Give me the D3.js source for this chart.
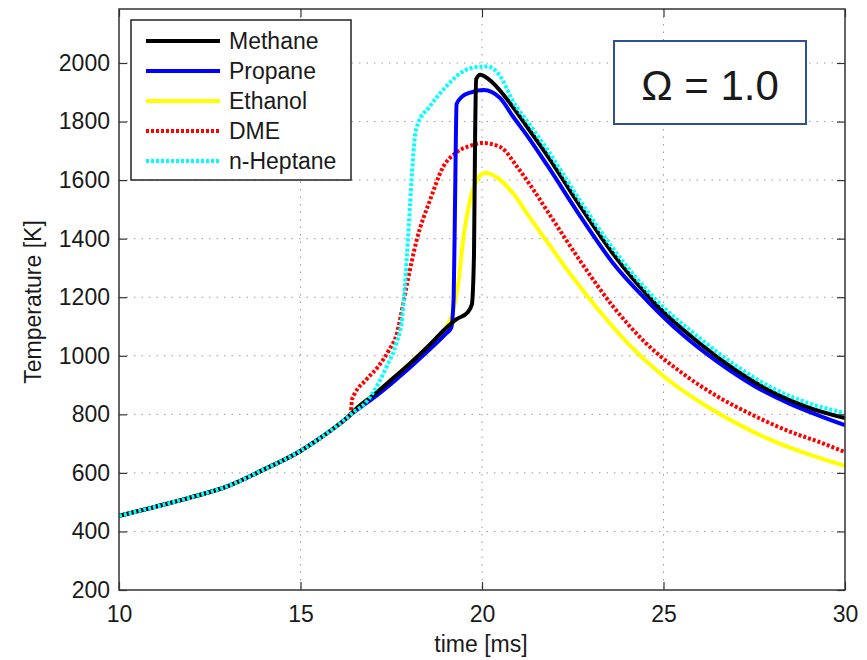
<!DOCTYPE html>
<html>
<head>
<meta charset="utf-8">
<script src="https://cdn.jsdelivr.net/npm/d3@7/dist/d3.min.js"></script>
<style>
  html, body { margin: 0; padding: 0; background: #fff; }
  svg { display: block; }
  text { font-family: "Liberation Sans", Arial, sans-serif; fill: #1a1a1a; }
</style>
</head>
<body>
<svg id="chart" width="867" height="660"></svg>
<script>
// ---------------- data ----------------
const xTicks = [10, 15, 20, 25, 30];
const yTicks = [200, 400, 600, 800, 1000, 1200, 1400, 1600, 1800, 2000];
const xLabel = "time [ms]";
const yLabel = "Temperature [K]";
const boxLabel = "Ω = 1.0";

const seriesNames = ["Methane", "Propane", "Ethanol", "DME", "n-Heptane"];

const commonTime = [10, 11, 12, 13, 14, 15, 15.5, 16, 16.3];
const commonTemp = [453, 484, 517, 555, 612, 675, 715, 760, 790];

const methaneTime = [16.5, 17, 17.5, 18, 18.5, 19.0, 19.3, 19.6, 19.72, 19.78, 19.81, 19.84, 19.95, 20.3, 20.85, 21.3, 21.8, 22.7, 23.6, 24.8, 26, 27, 28, 29, 30];
const methaneTemp = [815, 865, 918, 972, 1030, 1093, 1125, 1148, 1175, 1350, 1750, 1945, 1960, 1932, 1850, 1772, 1684, 1512, 1350, 1175, 1042, 950, 876, 823, 787];

const propaneTime = [16.5, 17, 17.5, 18, 18.5, 19.0, 19.15, 19.22, 19.26, 19.3, 19.45, 19.7, 20.05, 20.5, 20.85, 21.3, 21.8, 22.7, 23.6, 24.55, 25.5, 26.5, 27.5, 28.5, 29.3, 30];
const propaneTemp = [810, 855, 905, 958, 1015, 1075, 1095, 1200, 1550, 1860, 1885, 1900, 1908, 1880, 1818, 1742, 1650, 1478, 1318, 1188, 1075, 978, 897, 835, 795, 763];

const ethanolTime = [16.5, 17, 17.5, 18, 18.5, 19.0, 19.2, 19.35, 19.48, 19.67, 19.86, 20.1, 20.4, 20.85, 21.3, 21.8, 22.5, 23.2, 24, 25, 26, 27, 28, 29, 30];
const ethanolTemp = [815, 865, 918, 972, 1030, 1095, 1150, 1250, 1395, 1530, 1600, 1625, 1610, 1556, 1475, 1388, 1268, 1158, 1045, 930, 842, 770, 710, 663, 624];

const dmeTime = [16.38, 16.42, 16.5, 16.8, 17.17, 17.44, 17.66, 17.8, 17.96, 18.2, 18.57, 18.93, 19.28, 19.75, 20.0, 20.5, 21.0, 21.4, 21.8, 22.7, 23.6, 24.5, 25.5, 26.5, 27.5, 28.5, 29.3, 30];
const dmeTemp = [800, 850, 872, 917, 968, 1020, 1078, 1160, 1260, 1395, 1532, 1645, 1693, 1720, 1727, 1713, 1640, 1570, 1494, 1325, 1170, 1045, 942, 860, 795, 740, 705, 671];

const heptaneTime = [16.5, 16.72, 17.0, 17.37, 17.64, 17.8, 17.93, 18.06, 18.15, 18.22, 18.55, 19.0, 19.45, 19.85, 20.15, 20.5, 20.85, 21.3, 21.8, 22.7, 23.6, 24.8, 26, 27, 28, 29, 30];
const heptaneTemp = [812, 830, 875, 962, 1043, 1130, 1337, 1600, 1747, 1788, 1850, 1918, 1969, 1986, 1988, 1955, 1870, 1792, 1704, 1530, 1368, 1190, 1060, 966, 890, 838, 804];

// ---------------- layout ----------------
const svg = d3.select("#chart");
const L = 119, R = 845, T = 9, B = 590;

const x = d3.scaleLinear().domain([10, 30]).range([L, R]);
const y = d3.scaleLinear().domain([200, 2000]).range([B, 63]);

const styles = {
  "Methane":   { color: "#000000", dash: null },
  "Propane":   { color: "#0000ff", dash: null },
  "Ethanol":   { color: "#ffff00", dash: null },
  "DME":       { color: "#ff0000", dash: "3,2" },
  "n-Heptane": { color: "#00ffff", dash: "3,2" }
};

function build(times, temps) {
  const t = commonTime.concat(times);
  const v = commonTemp.concat(temps);
  return t.map((d, i) => ({ t: d, v: v[i] }));
}
const seriesData = {
  "Methane": build(methaneTime, methaneTemp),
  "Propane": build(propaneTime, propaneTemp),
  "Ethanol": build(ethanolTime, ethanolTemp),
  "DME": build(dmeTime, dmeTemp),
  "n-Heptane": build(heptaneTime, heptaneTemp)
};

// clip
svg.append("defs").append("clipPath").attr("id", "plotclip")
  .append("rect").attr("x", L).attr("y", T).attr("width", R - L).attr("height", B - T);

// grid
const grid = svg.append("g").attr("stroke", "#9a9a9a").attr("stroke-width", 1).attr("stroke-dasharray", "1.5,6");
grid.selectAll("line.gx").data(xTicks.filter(d => d > 10 && d < 30)).join("line")
  .attr("x1", d => x(d)).attr("x2", d => x(d)).attr("y1", T).attr("y2", B);
grid.selectAll("line.gy").data(yTicks.filter(d => d > 200)).join("line")
  .attr("x1", L).attr("x2", R).attr("y1", d => y(d)).attr("y2", d => y(d));

// lines
const line = d3.line().x(d => x(d.t)).y(d => y(d.v)).curve(d3.curveMonotoneX);
const drawOrder = ["Ethanol", "DME", "Propane", "Methane", "n-Heptane"];
const lines = svg.append("g").attr("clip-path", "url(#plotclip)");
drawOrder.forEach(name => {
  lines.append("path")
    .datum(seriesData[name])
    .attr("fill", "none")
    .attr("stroke", styles[name].color)
    .attr("stroke-width", 4)
    .attr("stroke-linejoin", "round")
    .attr("stroke-dasharray", styles[name].dash)
    .attr("d", line);
});

// axes
const axisColor = "#333";
const fmt = d3.format("d");
const gL = svg.append("g").attr("transform", `translate(${L},0)`)
  .call(d3.axisLeft(y).tickValues(yTicks).tickFormat(fmt).tickSize(-8).tickPadding(9).tickSizeOuter(0));
const gB = svg.append("g").attr("transform", `translate(0,${B})`)
  .call(d3.axisBottom(x).tickValues(xTicks).tickFormat(fmt).tickSize(-8).tickPadding(16).tickSizeOuter(0));
const gRt = svg.append("g").attr("transform", `translate(${R},0)`)
  .call(d3.axisRight(y).tickValues(yTicks).tickSize(-8).tickFormat("").tickSizeOuter(0));
const gTp = svg.append("g").attr("transform", `translate(0,${T})`)
  .call(d3.axisTop(x).tickValues(xTicks).tickSize(-8).tickFormat("").tickSizeOuter(0));
[gL, gB, gRt, gTp].forEach(g => {
  g.select(".domain").remove();
  g.selectAll(".tick line").attr("stroke", axisColor).attr("stroke-width", 1.2);
  g.selectAll("text").attr("font-size", 23).attr("fill", "#1a1a1a")
    .attr("font-family", '"Liberation Sans", Arial, sans-serif');
});
svg.append("rect").attr("x", L).attr("y", T).attr("width", R - L).attr("height", B - T)
  .attr("fill", "none").attr("stroke", axisColor).attr("stroke-width", 1.5);

// axis labels
svg.append("text").attr("x", (L + R) / 2 - 1).attr("y", 652).attr("text-anchor", "middle")
  .attr("font-size", 23).text(xLabel);
svg.append("text").attr("transform", `translate(41,${302}) rotate(-90)`).attr("text-anchor", "middle")
  .attr("font-size", 23).text(yLabel);

// legend
const leg = svg.append("g");
leg.append("rect").attr("x", 131).attr("y", 20).attr("width", 220).attr("height", 160)
  .attr("fill", "#fff").attr("stroke", "#222").attr("stroke-width", 1.5);
const legY = d3.scalePoint().domain(seriesNames).range([41, 161]);
seriesNames.forEach(name => {
  const yy = legY(name);
  leg.append("line").attr("x1", 146).attr("x2", 220).attr("y1", yy).attr("y2", yy)
    .attr("stroke", styles[name].color).attr("stroke-width", 4)
    .attr("stroke-dasharray", styles[name].dash);
  leg.append("text").attr("x", 229).attr("y", yy + 8).attr("font-size", 23).text(name);
});

// Omega box
svg.append("rect").attr("x", 614).attr("y", 41).attr("width", 192).attr("height", 83)
  .attr("fill", "#fff").attr("stroke", "#2f528f").attr("stroke-width", 2);
svg.append("text").attr("x", 710).attr("y", 100).attr("text-anchor", "middle")
  .attr("font-size", 42).attr("font-family", '"Open Sans", "Noto Sans", sans-serif')
  .attr("fill", "#000").text(boxLabel);
</script>
</body>
</html>
